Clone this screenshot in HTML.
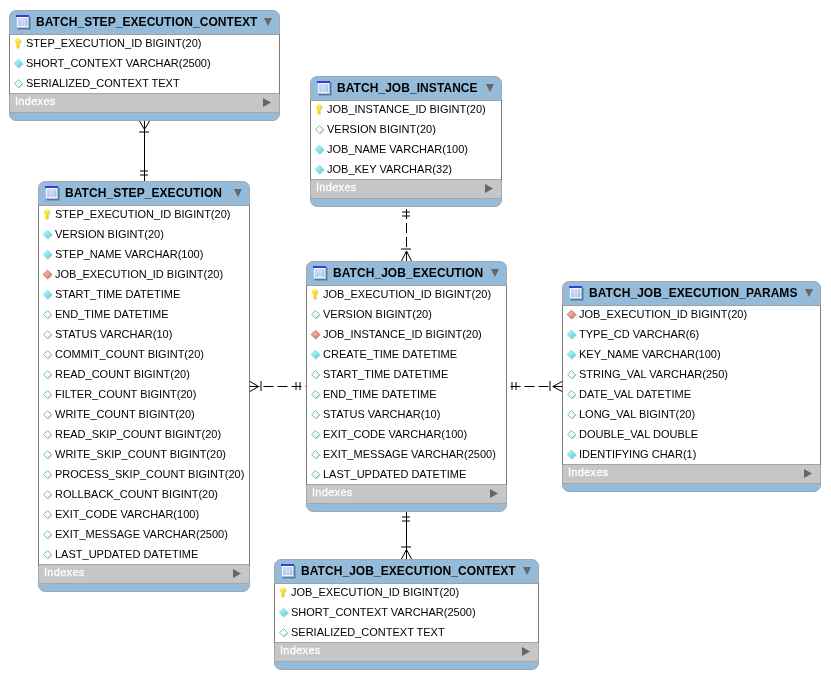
<!DOCTYPE html>
<html><head><meta charset="utf-8"><style>
html,body{margin:0;padding:0;background:#fff;width:831px;height:679px;overflow:hidden;position:relative;font-family:"Liberation Sans",sans-serif;}
.t{position:absolute;box-sizing:border-box;border:1px solid #a8a6a6;border-radius:7px;background:#94bbd9;}
.rows{position:absolute;left:-1px;right:-1px;background:#fff;border-top:1px solid #a0a0a0;border-left:1px solid #7c7c7c;border-right:1px solid #7c7c7c;box-sizing:border-box;}
.idx{position:absolute;left:0;right:0;background:#c6c6c6;border-top:1px solid #a4a4a4;border-bottom:1px solid #aaa4a2;box-sizing:border-box;}
.ttl{position:absolute;will-change:transform;font-weight:bold;font-size:12px;line-height:14px;color:#000;white-space:pre;letter-spacing:0.06px;}
.r{position:absolute;will-change:transform;font-size:11px;line-height:13px;color:#000;white-space:pre;}
.ix{position:absolute;will-change:transform;font-weight:normal;font-size:11px;line-height:13px;color:#fff;white-space:pre;letter-spacing:0.3px;-webkit-text-stroke:0.3px #fff;}
svg{position:absolute;left:0;top:0;}
</style></head><body>

<svg width="0" height="0" style="position:absolute">
<defs>
<linearGradient id="gf" x1="0" y1="0" x2="1" y2="1"><stop offset="0" stop-color="#d0fcff"/><stop offset="1" stop-color="#38d4e8"/></linearGradient>
<linearGradient id="gr" x1="0" y1="0" x2="1" y2="1"><stop offset="0" stop-color="#ffd0c8"/><stop offset="1" stop-color="#e86858"/></linearGradient>
<linearGradient id="gk" x1="0" y1="0" x2="1" y2="1"><stop offset="0" stop-color="#fff050"/><stop offset="1" stop-color="#f2c400"/></linearGradient>
<linearGradient id="gi" x1="0" y1="0" x2="0.3" y2="1"><stop offset="0" stop-color="#d0daf0"/><stop offset="1" stop-color="#b8caec"/></linearGradient>
<linearGradient id="gi2" x1="0" y1="0" x2="0.3" y2="1"><stop offset="0" stop-color="#c4d4f0"/><stop offset="1" stop-color="#a8c0ec"/></linearGradient>
</defs></svg>

<div class="t" style="left:9px;top:10px;width:271px;height:111px">
<div class="rows" style="top:23px;height:60px"></div>
<div class="idx" style="top:82px;height:20px"></div>
</div>
<svg style="left:16px;top:15px" width="15" height="15" viewBox="0 0 15 15">
<rect x="1.5" y="1.5" width="13" height="13" fill="#1c2834" opacity="0.45"/>
<rect x="0" y="0" width="13" height="13" fill="#a4c0f0"/>
<rect x="0" y="0" width="13" height="2" fill="#3a3ad6"/>
<rect x="1" y="2" width="11" height="10" fill="#eef6ff"/>
<rect x="2" y="3" width="3.6" height="8" fill="url(#gi)"/>
<rect x="6.1" y="3" width="2.4" height="8" fill="url(#gi)"/>
<rect x="9" y="3" width="2.4" height="8" fill="url(#gi2)"/>
</svg>
<div class="ttl" style="left:36px;top:15px">BATCH_STEP_EXECUTION_CONTEXT</div>
<svg style="left:263px;top:17px" width="10" height="10" viewBox="0 0 10 10"><polygon points="1,1 9,1 5,9" fill="#666"/></svg>
<div class="r" style="left:26px;top:37px">STEP_EXECUTION_ID BIGINT(20)</div>
<svg style="left:15px;top:38px" width="9" height="12" viewBox="0 0 9 12">
<path d="M2.6,1.3 L4.6,1.3 L5.6,2.3 L6.6,3 L6.6,4.8 L5.6,5.8 L5,6.3 L5,10.2 L4.3,10.9 L3,10.9 L2.3,10.2 L2.3,6.3 L1.6,5.8 L0.6,4.8 L0.6,3 L1.6,2.3 Z" fill="#9ab0e0" opacity="0.35"/>
<path d="M2,0.4 L4,0.4 L5,1.4 L6,2 L6,4 L5,5 L4.4,5.5 L4.4,9.6 L3.6,10.3 L2.2,10.3 L1.3,9.6 L1.3,5.5 L1,5 L0,4 L0,2 L1,1.4 Z" fill="url(#gk)"/>
<path d="M2.2,1.6 L3.6,1.6 L4,2.6 L3.2,3.6 L2,3.2 Z" fill="#fffaa0" opacity="0.7"/>
</svg>
<div class="r" style="left:26px;top:57px">SHORT_CONTEXT VARCHAR(2500)</div>
<div class="r" style="left:26px;top:77px">SERIALIZED_CONTEXT TEXT</div>
<svg style="left:0;top:0" width="831" height="679"><polygon points="19.3,60.0 23.6,64.3 19.3,68.6 15.0,64.3" fill="#000" opacity="0.18"/><polygon points="18.5,59.2 22.8,63.5 18.5,67.8 14.2,63.5" fill="url(#gf)" stroke="#70c8d0" stroke-width="0.7"/><polygon points="19.3,80.0 23.6,84.3 19.3,88.6 15.0,84.3" fill="#000" opacity="0.18"/><polygon points="18.5,79.60000000000001 22.400000000000002,83.5 18.5,87.39999999999999 14.6,83.5" fill="#fff" stroke="#58b4bc" stroke-width="0.9"/></svg>
<div class="ix" style="left:15px;top:95px">Indexes</div>
<svg style="left:262px;top:97px" width="10" height="11" viewBox="0 0 10 11"><polygon points="1,1 1,10 9,5.5" fill="#666"/></svg>
<div class="t" style="left:310px;top:76px;width:192px;height:131px">
<div class="rows" style="top:23px;height:80px"></div>
<div class="idx" style="top:102px;height:20px"></div>
</div>
<svg style="left:317px;top:81px" width="15" height="15" viewBox="0 0 15 15">
<rect x="1.5" y="1.5" width="13" height="13" fill="#1c2834" opacity="0.45"/>
<rect x="0" y="0" width="13" height="13" fill="#a4c0f0"/>
<rect x="0" y="0" width="13" height="2" fill="#3a3ad6"/>
<rect x="1" y="2" width="11" height="10" fill="#eef6ff"/>
<rect x="2" y="3" width="3.6" height="8" fill="url(#gi)"/>
<rect x="6.1" y="3" width="2.4" height="8" fill="url(#gi)"/>
<rect x="9" y="3" width="2.4" height="8" fill="url(#gi2)"/>
</svg>
<div class="ttl" style="left:337px;top:81px">BATCH_JOB_INSTANCE</div>
<svg style="left:485px;top:83px" width="10" height="10" viewBox="0 0 10 10"><polygon points="1,1 9,1 5,9" fill="#666"/></svg>
<div class="r" style="left:327px;top:103px">JOB_INSTANCE_ID BIGINT(20)</div>
<svg style="left:316px;top:104px" width="9" height="12" viewBox="0 0 9 12">
<path d="M2.6,1.3 L4.6,1.3 L5.6,2.3 L6.6,3 L6.6,4.8 L5.6,5.8 L5,6.3 L5,10.2 L4.3,10.9 L3,10.9 L2.3,10.2 L2.3,6.3 L1.6,5.8 L0.6,4.8 L0.6,3 L1.6,2.3 Z" fill="#9ab0e0" opacity="0.35"/>
<path d="M2,0.4 L4,0.4 L5,1.4 L6,2 L6,4 L5,5 L4.4,5.5 L4.4,9.6 L3.6,10.3 L2.2,10.3 L1.3,9.6 L1.3,5.5 L1,5 L0,4 L0,2 L1,1.4 Z" fill="url(#gk)"/>
<path d="M2.2,1.6 L3.6,1.6 L4,2.6 L3.2,3.6 L2,3.2 Z" fill="#fffaa0" opacity="0.7"/>
</svg>
<div class="r" style="left:327px;top:123px">VERSION BIGINT(20)</div>
<div class="r" style="left:327px;top:143px">JOB_NAME VARCHAR(100)</div>
<div class="r" style="left:327px;top:163px">JOB_KEY VARCHAR(32)</div>
<svg style="left:0;top:0" width="831" height="679"><polygon points="320.3,126.0 324.6,130.3 320.3,134.60000000000002 316.0,130.3" fill="#000" opacity="0.18"/><polygon points="319.5,125.60000000000001 323.40000000000003,129.5 319.5,133.4 315.59999999999997,129.5" fill="#fff" stroke="#58b4bc" stroke-width="0.9"/><polygon points="320.3,146.0 324.6,150.3 320.3,154.60000000000002 316.0,150.3" fill="#000" opacity="0.18"/><polygon points="319.5,145.2 323.8,149.5 319.5,153.8 315.2,149.5" fill="url(#gf)" stroke="#70c8d0" stroke-width="0.7"/><polygon points="320.3,166.0 324.6,170.3 320.3,174.60000000000002 316.0,170.3" fill="#000" opacity="0.18"/><polygon points="319.5,165.2 323.8,169.5 319.5,173.8 315.2,169.5" fill="url(#gf)" stroke="#70c8d0" stroke-width="0.7"/></svg>
<div class="ix" style="left:316px;top:181px">Indexes</div>
<svg style="left:484px;top:183px" width="10" height="11" viewBox="0 0 10 11"><polygon points="1,1 1,10 9,5.5" fill="#666"/></svg>
<div class="t" style="left:38px;top:181px;width:212px;height:411px">
<div class="rows" style="top:23px;height:360px"></div>
<div class="idx" style="top:382px;height:20px"></div>
</div>
<svg style="left:45px;top:186px" width="15" height="15" viewBox="0 0 15 15">
<rect x="1.5" y="1.5" width="13" height="13" fill="#1c2834" opacity="0.45"/>
<rect x="0" y="0" width="13" height="13" fill="#a4c0f0"/>
<rect x="0" y="0" width="13" height="2" fill="#3a3ad6"/>
<rect x="1" y="2" width="11" height="10" fill="#eef6ff"/>
<rect x="2" y="3" width="3.6" height="8" fill="url(#gi)"/>
<rect x="6.1" y="3" width="2.4" height="8" fill="url(#gi)"/>
<rect x="9" y="3" width="2.4" height="8" fill="url(#gi2)"/>
</svg>
<div class="ttl" style="left:65px;top:186px">BATCH_STEP_EXECUTION</div>
<svg style="left:233px;top:188px" width="10" height="10" viewBox="0 0 10 10"><polygon points="1,1 9,1 5,9" fill="#666"/></svg>
<div class="r" style="left:55px;top:208px">STEP_EXECUTION_ID BIGINT(20)</div>
<svg style="left:44px;top:209px" width="9" height="12" viewBox="0 0 9 12">
<path d="M2.6,1.3 L4.6,1.3 L5.6,2.3 L6.6,3 L6.6,4.8 L5.6,5.8 L5,6.3 L5,10.2 L4.3,10.9 L3,10.9 L2.3,10.2 L2.3,6.3 L1.6,5.8 L0.6,4.8 L0.6,3 L1.6,2.3 Z" fill="#9ab0e0" opacity="0.35"/>
<path d="M2,0.4 L4,0.4 L5,1.4 L6,2 L6,4 L5,5 L4.4,5.5 L4.4,9.6 L3.6,10.3 L2.2,10.3 L1.3,9.6 L1.3,5.5 L1,5 L0,4 L0,2 L1,1.4 Z" fill="url(#gk)"/>
<path d="M2.2,1.6 L3.6,1.6 L4,2.6 L3.2,3.6 L2,3.2 Z" fill="#fffaa0" opacity="0.7"/>
</svg>
<div class="r" style="left:55px;top:228px">VERSION BIGINT(20)</div>
<div class="r" style="left:55px;top:248px">STEP_NAME VARCHAR(100)</div>
<div class="r" style="left:55px;top:268px">JOB_EXECUTION_ID BIGINT(20)</div>
<div class="r" style="left:55px;top:288px">START_TIME DATETIME</div>
<div class="r" style="left:55px;top:308px">END_TIME DATETIME</div>
<div class="r" style="left:55px;top:328px">STATUS VARCHAR(10)</div>
<div class="r" style="left:55px;top:348px">COMMIT_COUNT BIGINT(20)</div>
<div class="r" style="left:55px;top:368px">READ_COUNT BIGINT(20)</div>
<div class="r" style="left:55px;top:388px">FILTER_COUNT BIGINT(20)</div>
<div class="r" style="left:55px;top:408px">WRITE_COUNT BIGINT(20)</div>
<div class="r" style="left:55px;top:428px">READ_SKIP_COUNT BIGINT(20)</div>
<div class="r" style="left:55px;top:448px">WRITE_SKIP_COUNT BIGINT(20)</div>
<div class="r" style="left:55px;top:468px">PROCESS_SKIP_COUNT BIGINT(20)</div>
<div class="r" style="left:55px;top:488px">ROLLBACK_COUNT BIGINT(20)</div>
<div class="r" style="left:55px;top:508px">EXIT_CODE VARCHAR(100)</div>
<div class="r" style="left:55px;top:528px">EXIT_MESSAGE VARCHAR(2500)</div>
<div class="r" style="left:55px;top:548px">LAST_UPDATED DATETIME</div>
<svg style="left:0;top:0" width="831" height="679"><polygon points="48.3,231.0 52.599999999999994,235.3 48.3,239.60000000000002 44.0,235.3" fill="#000" opacity="0.18"/><polygon points="47.5,230.2 51.8,234.5 47.5,238.8 43.2,234.5" fill="url(#gf)" stroke="#70c8d0" stroke-width="0.7"/><polygon points="48.3,251.0 52.599999999999994,255.3 48.3,259.6 44.0,255.3" fill="#000" opacity="0.18"/><polygon points="47.5,250.2 51.8,254.5 47.5,258.8 43.2,254.5" fill="url(#gf)" stroke="#70c8d0" stroke-width="0.7"/><polygon points="48.3,271.0 52.599999999999994,275.3 48.3,279.6 44.0,275.3" fill="#000" opacity="0.18"/><polygon points="47.5,270.2 51.8,274.5 47.5,278.8 43.2,274.5" fill="url(#gr)" stroke="#a86058" stroke-width="0.8"/><polygon points="48.3,291.0 52.599999999999994,295.3 48.3,299.6 44.0,295.3" fill="#000" opacity="0.18"/><polygon points="47.5,290.2 51.8,294.5 47.5,298.8 43.2,294.5" fill="url(#gf)" stroke="#70c8d0" stroke-width="0.7"/><polygon points="48.3,311.0 52.599999999999994,315.3 48.3,319.6 44.0,315.3" fill="#000" opacity="0.18"/><polygon points="47.5,310.59999999999997 51.4,314.5 47.5,318.40000000000003 43.6,314.5" fill="#fff" stroke="#58b4bc" stroke-width="0.9"/><polygon points="48.3,331.0 52.599999999999994,335.3 48.3,339.6 44.0,335.3" fill="#000" opacity="0.18"/><polygon points="47.5,330.59999999999997 51.4,334.5 47.5,338.40000000000003 43.6,334.5" fill="#fff" stroke="#58b4bc" stroke-width="0.9"/><polygon points="48.3,351.0 52.599999999999994,355.3 48.3,359.6 44.0,355.3" fill="#000" opacity="0.18"/><polygon points="47.5,350.59999999999997 51.4,354.5 47.5,358.40000000000003 43.6,354.5" fill="#fff" stroke="#58b4bc" stroke-width="0.9"/><polygon points="48.3,371.0 52.599999999999994,375.3 48.3,379.6 44.0,375.3" fill="#000" opacity="0.18"/><polygon points="47.5,370.59999999999997 51.4,374.5 47.5,378.40000000000003 43.6,374.5" fill="#fff" stroke="#58b4bc" stroke-width="0.9"/><polygon points="48.3,391.0 52.599999999999994,395.3 48.3,399.6 44.0,395.3" fill="#000" opacity="0.18"/><polygon points="47.5,390.59999999999997 51.4,394.5 47.5,398.40000000000003 43.6,394.5" fill="#fff" stroke="#58b4bc" stroke-width="0.9"/><polygon points="48.3,411.0 52.599999999999994,415.3 48.3,419.6 44.0,415.3" fill="#000" opacity="0.18"/><polygon points="47.5,410.59999999999997 51.4,414.5 47.5,418.40000000000003 43.6,414.5" fill="#fff" stroke="#58b4bc" stroke-width="0.9"/><polygon points="48.3,431.0 52.599999999999994,435.3 48.3,439.6 44.0,435.3" fill="#000" opacity="0.18"/><polygon points="47.5,430.59999999999997 51.4,434.5 47.5,438.40000000000003 43.6,434.5" fill="#fff" stroke="#58b4bc" stroke-width="0.9"/><polygon points="48.3,451.0 52.599999999999994,455.3 48.3,459.6 44.0,455.3" fill="#000" opacity="0.18"/><polygon points="47.5,450.59999999999997 51.4,454.5 47.5,458.40000000000003 43.6,454.5" fill="#fff" stroke="#58b4bc" stroke-width="0.9"/><polygon points="48.3,471.0 52.599999999999994,475.3 48.3,479.6 44.0,475.3" fill="#000" opacity="0.18"/><polygon points="47.5,470.59999999999997 51.4,474.5 47.5,478.40000000000003 43.6,474.5" fill="#fff" stroke="#58b4bc" stroke-width="0.9"/><polygon points="48.3,491.0 52.599999999999994,495.3 48.3,499.6 44.0,495.3" fill="#000" opacity="0.18"/><polygon points="47.5,490.59999999999997 51.4,494.5 47.5,498.40000000000003 43.6,494.5" fill="#fff" stroke="#58b4bc" stroke-width="0.9"/><polygon points="48.3,511.0 52.599999999999994,515.3 48.3,519.5999999999999 44.0,515.3" fill="#000" opacity="0.18"/><polygon points="47.5,510.59999999999997 51.4,514.5 47.5,518.4 43.6,514.5" fill="#fff" stroke="#58b4bc" stroke-width="0.9"/><polygon points="48.3,531.0 52.599999999999994,535.3 48.3,539.5999999999999 44.0,535.3" fill="#000" opacity="0.18"/><polygon points="47.5,530.6 51.4,534.5 47.5,538.4 43.6,534.5" fill="#fff" stroke="#58b4bc" stroke-width="0.9"/><polygon points="48.3,551.0 52.599999999999994,555.3 48.3,559.5999999999999 44.0,555.3" fill="#000" opacity="0.18"/><polygon points="47.5,550.6 51.4,554.5 47.5,558.4 43.6,554.5" fill="#fff" stroke="#58b4bc" stroke-width="0.9"/></svg>
<div class="ix" style="left:44px;top:566px">Indexes</div>
<svg style="left:232px;top:568px" width="10" height="11" viewBox="0 0 10 11"><polygon points="1,1 1,10 9,5.5" fill="#666"/></svg>
<div class="t" style="left:306px;top:261px;width:201px;height:251px">
<div class="rows" style="top:23px;height:200px"></div>
<div class="idx" style="top:222px;height:20px"></div>
</div>
<svg style="left:313px;top:266px" width="15" height="15" viewBox="0 0 15 15">
<rect x="1.5" y="1.5" width="13" height="13" fill="#1c2834" opacity="0.45"/>
<rect x="0" y="0" width="13" height="13" fill="#a4c0f0"/>
<rect x="0" y="0" width="13" height="2" fill="#3a3ad6"/>
<rect x="1" y="2" width="11" height="10" fill="#eef6ff"/>
<rect x="2" y="3" width="3.6" height="8" fill="url(#gi)"/>
<rect x="6.1" y="3" width="2.4" height="8" fill="url(#gi)"/>
<rect x="9" y="3" width="2.4" height="8" fill="url(#gi2)"/>
</svg>
<div class="ttl" style="left:333px;top:266px">BATCH_JOB_EXECUTION</div>
<svg style="left:490px;top:268px" width="10" height="10" viewBox="0 0 10 10"><polygon points="1,1 9,1 5,9" fill="#666"/></svg>
<div class="r" style="left:323px;top:288px">JOB_EXECUTION_ID BIGINT(20)</div>
<svg style="left:312px;top:289px" width="9" height="12" viewBox="0 0 9 12">
<path d="M2.6,1.3 L4.6,1.3 L5.6,2.3 L6.6,3 L6.6,4.8 L5.6,5.8 L5,6.3 L5,10.2 L4.3,10.9 L3,10.9 L2.3,10.2 L2.3,6.3 L1.6,5.8 L0.6,4.8 L0.6,3 L1.6,2.3 Z" fill="#9ab0e0" opacity="0.35"/>
<path d="M2,0.4 L4,0.4 L5,1.4 L6,2 L6,4 L5,5 L4.4,5.5 L4.4,9.6 L3.6,10.3 L2.2,10.3 L1.3,9.6 L1.3,5.5 L1,5 L0,4 L0,2 L1,1.4 Z" fill="url(#gk)"/>
<path d="M2.2,1.6 L3.6,1.6 L4,2.6 L3.2,3.6 L2,3.2 Z" fill="#fffaa0" opacity="0.7"/>
</svg>
<div class="r" style="left:323px;top:308px">VERSION BIGINT(20)</div>
<div class="r" style="left:323px;top:328px">JOB_INSTANCE_ID BIGINT(20)</div>
<div class="r" style="left:323px;top:348px">CREATE_TIME DATETIME</div>
<div class="r" style="left:323px;top:368px">START_TIME DATETIME</div>
<div class="r" style="left:323px;top:388px">END_TIME DATETIME</div>
<div class="r" style="left:323px;top:408px">STATUS VARCHAR(10)</div>
<div class="r" style="left:323px;top:428px">EXIT_CODE VARCHAR(100)</div>
<div class="r" style="left:323px;top:448px">EXIT_MESSAGE VARCHAR(2500)</div>
<div class="r" style="left:323px;top:468px">LAST_UPDATED DATETIME</div>
<svg style="left:0;top:0" width="831" height="679"><polygon points="316.3,311.0 320.6,315.3 316.3,319.6 312.0,315.3" fill="#000" opacity="0.18"/><polygon points="315.5,310.59999999999997 319.40000000000003,314.5 315.5,318.40000000000003 311.59999999999997,314.5" fill="#fff" stroke="#58b4bc" stroke-width="0.9"/><polygon points="316.3,331.0 320.6,335.3 316.3,339.6 312.0,335.3" fill="#000" opacity="0.18"/><polygon points="315.5,330.2 319.8,334.5 315.5,338.8 311.2,334.5" fill="url(#gr)" stroke="#a86058" stroke-width="0.8"/><polygon points="316.3,351.0 320.6,355.3 316.3,359.6 312.0,355.3" fill="#000" opacity="0.18"/><polygon points="315.5,350.2 319.8,354.5 315.5,358.8 311.2,354.5" fill="url(#gf)" stroke="#70c8d0" stroke-width="0.7"/><polygon points="316.3,371.0 320.6,375.3 316.3,379.6 312.0,375.3" fill="#000" opacity="0.18"/><polygon points="315.5,370.59999999999997 319.40000000000003,374.5 315.5,378.40000000000003 311.59999999999997,374.5" fill="#fff" stroke="#58b4bc" stroke-width="0.9"/><polygon points="316.3,391.0 320.6,395.3 316.3,399.6 312.0,395.3" fill="#000" opacity="0.18"/><polygon points="315.5,390.59999999999997 319.40000000000003,394.5 315.5,398.40000000000003 311.59999999999997,394.5" fill="#fff" stroke="#58b4bc" stroke-width="0.9"/><polygon points="316.3,411.0 320.6,415.3 316.3,419.6 312.0,415.3" fill="#000" opacity="0.18"/><polygon points="315.5,410.59999999999997 319.40000000000003,414.5 315.5,418.40000000000003 311.59999999999997,414.5" fill="#fff" stroke="#58b4bc" stroke-width="0.9"/><polygon points="316.3,431.0 320.6,435.3 316.3,439.6 312.0,435.3" fill="#000" opacity="0.18"/><polygon points="315.5,430.59999999999997 319.40000000000003,434.5 315.5,438.40000000000003 311.59999999999997,434.5" fill="#fff" stroke="#58b4bc" stroke-width="0.9"/><polygon points="316.3,451.0 320.6,455.3 316.3,459.6 312.0,455.3" fill="#000" opacity="0.18"/><polygon points="315.5,450.59999999999997 319.40000000000003,454.5 315.5,458.40000000000003 311.59999999999997,454.5" fill="#fff" stroke="#58b4bc" stroke-width="0.9"/><polygon points="316.3,471.0 320.6,475.3 316.3,479.6 312.0,475.3" fill="#000" opacity="0.18"/><polygon points="315.5,470.59999999999997 319.40000000000003,474.5 315.5,478.40000000000003 311.59999999999997,474.5" fill="#fff" stroke="#58b4bc" stroke-width="0.9"/></svg>
<div class="ix" style="left:312px;top:486px">Indexes</div>
<svg style="left:489px;top:488px" width="10" height="11" viewBox="0 0 10 11"><polygon points="1,1 1,10 9,5.5" fill="#666"/></svg>
<div class="t" style="left:562px;top:281px;width:259px;height:211px">
<div class="rows" style="top:23px;height:160px"></div>
<div class="idx" style="top:182px;height:20px"></div>
</div>
<svg style="left:569px;top:286px" width="15" height="15" viewBox="0 0 15 15">
<rect x="1.5" y="1.5" width="13" height="13" fill="#1c2834" opacity="0.45"/>
<rect x="0" y="0" width="13" height="13" fill="#a4c0f0"/>
<rect x="0" y="0" width="13" height="2" fill="#3a3ad6"/>
<rect x="1" y="2" width="11" height="10" fill="#eef6ff"/>
<rect x="2" y="3" width="3.6" height="8" fill="url(#gi)"/>
<rect x="6.1" y="3" width="2.4" height="8" fill="url(#gi)"/>
<rect x="9" y="3" width="2.4" height="8" fill="url(#gi2)"/>
</svg>
<div class="ttl" style="left:589px;top:286px">BATCH_JOB_EXECUTION_PARAMS</div>
<svg style="left:804px;top:288px" width="10" height="10" viewBox="0 0 10 10"><polygon points="1,1 9,1 5,9" fill="#666"/></svg>
<div class="r" style="left:579px;top:308px">JOB_EXECUTION_ID BIGINT(20)</div>
<div class="r" style="left:579px;top:328px">TYPE_CD VARCHAR(6)</div>
<div class="r" style="left:579px;top:348px">KEY_NAME VARCHAR(100)</div>
<div class="r" style="left:579px;top:368px">STRING_VAL VARCHAR(250)</div>
<div class="r" style="left:579px;top:388px">DATE_VAL DATETIME</div>
<div class="r" style="left:579px;top:408px">LONG_VAL BIGINT(20)</div>
<div class="r" style="left:579px;top:428px">DOUBLE_VAL DOUBLE</div>
<div class="r" style="left:579px;top:448px">IDENTIFYING CHAR(1)</div>
<svg style="left:0;top:0" width="831" height="679"><polygon points="572.3,311.0 576.5999999999999,315.3 572.3,319.6 568.0,315.3" fill="#000" opacity="0.18"/><polygon points="571.5,310.2 575.8,314.5 571.5,318.8 567.2,314.5" fill="url(#gr)" stroke="#a86058" stroke-width="0.8"/><polygon points="572.3,331.0 576.5999999999999,335.3 572.3,339.6 568.0,335.3" fill="#000" opacity="0.18"/><polygon points="571.5,330.2 575.8,334.5 571.5,338.8 567.2,334.5" fill="url(#gf)" stroke="#70c8d0" stroke-width="0.7"/><polygon points="572.3,351.0 576.5999999999999,355.3 572.3,359.6 568.0,355.3" fill="#000" opacity="0.18"/><polygon points="571.5,350.2 575.8,354.5 571.5,358.8 567.2,354.5" fill="url(#gf)" stroke="#70c8d0" stroke-width="0.7"/><polygon points="572.3,371.0 576.5999999999999,375.3 572.3,379.6 568.0,375.3" fill="#000" opacity="0.18"/><polygon points="571.5,370.59999999999997 575.4,374.5 571.5,378.40000000000003 567.6,374.5" fill="#fff" stroke="#58b4bc" stroke-width="0.9"/><polygon points="572.3,391.0 576.5999999999999,395.3 572.3,399.6 568.0,395.3" fill="#000" opacity="0.18"/><polygon points="571.5,390.59999999999997 575.4,394.5 571.5,398.40000000000003 567.6,394.5" fill="#fff" stroke="#58b4bc" stroke-width="0.9"/><polygon points="572.3,411.0 576.5999999999999,415.3 572.3,419.6 568.0,415.3" fill="#000" opacity="0.18"/><polygon points="571.5,410.59999999999997 575.4,414.5 571.5,418.40000000000003 567.6,414.5" fill="#fff" stroke="#58b4bc" stroke-width="0.9"/><polygon points="572.3,431.0 576.5999999999999,435.3 572.3,439.6 568.0,435.3" fill="#000" opacity="0.18"/><polygon points="571.5,430.59999999999997 575.4,434.5 571.5,438.40000000000003 567.6,434.5" fill="#fff" stroke="#58b4bc" stroke-width="0.9"/><polygon points="572.3,451.0 576.5999999999999,455.3 572.3,459.6 568.0,455.3" fill="#000" opacity="0.18"/><polygon points="571.5,450.2 575.8,454.5 571.5,458.8 567.2,454.5" fill="url(#gf)" stroke="#70c8d0" stroke-width="0.7"/></svg>
<div class="ix" style="left:568px;top:466px">Indexes</div>
<svg style="left:803px;top:468px" width="10" height="11" viewBox="0 0 10 11"><polygon points="1,1 1,10 9,5.5" fill="#666"/></svg>
<div class="t" style="left:274px;top:559px;width:265px;height:111px">
<div class="rows" style="top:23px;height:60px"></div>
<div class="idx" style="top:82px;height:20px"></div>
</div>
<svg style="left:281px;top:564px" width="15" height="15" viewBox="0 0 15 15">
<rect x="1.5" y="1.5" width="13" height="13" fill="#1c2834" opacity="0.45"/>
<rect x="0" y="0" width="13" height="13" fill="#a4c0f0"/>
<rect x="0" y="0" width="13" height="2" fill="#3a3ad6"/>
<rect x="1" y="2" width="11" height="10" fill="#eef6ff"/>
<rect x="2" y="3" width="3.6" height="8" fill="url(#gi)"/>
<rect x="6.1" y="3" width="2.4" height="8" fill="url(#gi)"/>
<rect x="9" y="3" width="2.4" height="8" fill="url(#gi2)"/>
</svg>
<div class="ttl" style="left:301px;top:564px">BATCH_JOB_EXECUTION_CONTEXT</div>
<svg style="left:522px;top:566px" width="10" height="10" viewBox="0 0 10 10"><polygon points="1,1 9,1 5,9" fill="#666"/></svg>
<div class="r" style="left:291px;top:586px">JOB_EXECUTION_ID BIGINT(20)</div>
<svg style="left:280px;top:587px" width="9" height="12" viewBox="0 0 9 12">
<path d="M2.6,1.3 L4.6,1.3 L5.6,2.3 L6.6,3 L6.6,4.8 L5.6,5.8 L5,6.3 L5,10.2 L4.3,10.9 L3,10.9 L2.3,10.2 L2.3,6.3 L1.6,5.8 L0.6,4.8 L0.6,3 L1.6,2.3 Z" fill="#9ab0e0" opacity="0.35"/>
<path d="M2,0.4 L4,0.4 L5,1.4 L6,2 L6,4 L5,5 L4.4,5.5 L4.4,9.6 L3.6,10.3 L2.2,10.3 L1.3,9.6 L1.3,5.5 L1,5 L0,4 L0,2 L1,1.4 Z" fill="url(#gk)"/>
<path d="M2.2,1.6 L3.6,1.6 L4,2.6 L3.2,3.6 L2,3.2 Z" fill="#fffaa0" opacity="0.7"/>
</svg>
<div class="r" style="left:291px;top:606px">SHORT_CONTEXT VARCHAR(2500)</div>
<div class="r" style="left:291px;top:626px">SERIALIZED_CONTEXT TEXT</div>
<svg style="left:0;top:0" width="831" height="679"><polygon points="284.3,609.0 288.6,613.3 284.3,617.5999999999999 280.0,613.3" fill="#000" opacity="0.18"/><polygon points="283.5,608.2 287.8,612.5 283.5,616.8 279.2,612.5" fill="url(#gf)" stroke="#70c8d0" stroke-width="0.7"/><polygon points="284.3,629.0 288.6,633.3 284.3,637.5999999999999 280.0,633.3" fill="#000" opacity="0.18"/><polygon points="283.5,628.6 287.40000000000003,632.5 283.5,636.4 279.59999999999997,632.5" fill="#fff" stroke="#58b4bc" stroke-width="0.9"/></svg>
<div class="ix" style="left:280px;top:644px">Indexes</div>
<svg style="left:521px;top:646px" width="10" height="11" viewBox="0 0 10 11"><polygon points="1,1 1,10 9,5.5" fill="#666"/></svg>
<svg width="831" height="679" style="left:0;top:0" stroke="#000" stroke-width="1" fill="none"><line x1="144.5" y1="121" x2="144.5" y2="181" /><line x1="139.5" y1="121" x2="144.5" y2="129.5" /><line x1="149.5" y1="121" x2="144.5" y2="129.5" /><line x1="139" y1="132" x2="149" y2="132" stroke="#000"/><line x1="140" y1="171" x2="148" y2="171" stroke="#000"/><line x1="140" y1="175" x2="148" y2="175" stroke="#000"/><line x1="406.5" y1="261" x2="406.5" y2="207" stroke-dasharray="10 4"/><line x1="401.5" y1="261" x2="406.5" y2="251" /><line x1="411.5" y1="261" x2="406.5" y2="251" /><line x1="401" y1="249" x2="411" y2="249" stroke="#000"/><line x1="402" y1="212" x2="410" y2="212" stroke="#000"/><line x1="402" y1="216" x2="410" y2="216" stroke="#000"/><line x1="249.5" y1="386.5" x2="306" y2="386.5" stroke-dasharray="10 4"/><line x1="250" y1="381.5" x2="258.5" y2="386.5" /><line x1="250" y1="391.5" x2="258.5" y2="386.5" /><line x1="261" y1="381" x2="261" y2="391" stroke="#000"/><line x1="296" y1="382" x2="296" y2="390" stroke="#000"/><line x1="300" y1="382" x2="300" y2="390" stroke="#000"/><line x1="562.5" y1="386.5" x2="507" y2="386.5" stroke-dasharray="10 4"/><line x1="562" y1="381.5" x2="553" y2="386.5" /><line x1="562" y1="391.5" x2="553" y2="386.5" /><line x1="550" y1="381" x2="550" y2="391" stroke="#000"/><line x1="512" y1="382" x2="512" y2="390" stroke="#000"/><line x1="516" y1="382" x2="516" y2="390" stroke="#000"/><line x1="406.5" y1="512" x2="406.5" y2="559" /><line x1="401.5" y1="559" x2="406.5" y2="549.5" /><line x1="411.5" y1="559" x2="406.5" y2="549.5" /><line x1="401" y1="547" x2="411" y2="547" stroke="#000"/><line x1="402" y1="517" x2="410" y2="517" stroke="#000"/><line x1="402" y1="521" x2="410" y2="521" stroke="#000"/></svg>
</body></html>
